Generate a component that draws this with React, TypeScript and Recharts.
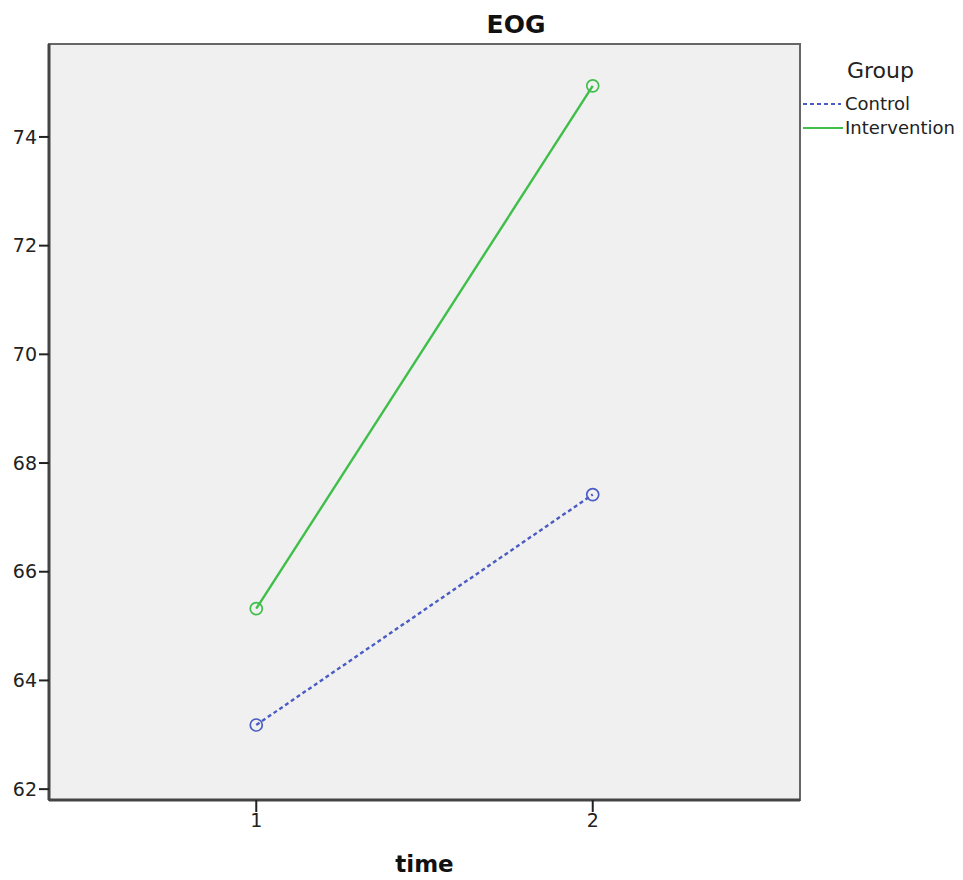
import React from 'react';
import { LineChart, Line, XAxis, YAxis, CartesianGrid, ReferenceArea } from 'recharts';

const times = [1, 2];
const controlValues = [63.18, 67.42];
const interventionValues = [65.32, 74.94];
const yTicks = [62, 64, 66, 68, 70, 72, 74];
const xTicks = [1, 2];

const data = times.map((t, i) => ({ time: t, control: controlValues[i], intervention: interventionValues[i] }));

const BLUE = '#4a5cc4';
const GREEN = '#3fbf4a';
const FONT = '"DejaVu Sans", sans-serif';
const X_DOMAIN: [number, number] = [0.384, 2.616];
const Y_DOMAIN: [number, number] = [61.8, 75.71];

export default function App() {
  return (
    <div style={{ position: 'relative', width: 955, height: 872, fontFamily: FONT }}>
      <div style={{ position: 'absolute', left: 0, width: 1016, top: 2, textAlign: 'center', fontSize: 25, fontWeight: 'bold', color: '#111' }}>
        EOG
      </div>
      <LineChart width={955} height={872} data={data} margin={{ top: 36, right: 163, bottom: 0, left: 0 }}>
        <CartesianGrid fill="#f0f0f0" horizontal={false} vertical={false} />
        <ReferenceArea
          x1={X_DOMAIN[0]}
          x2={X_DOMAIN[1]}
          y1={Y_DOMAIN[0]}
          y2={Y_DOMAIN[1]}
          fill="none"
          fillOpacity={0}
          stroke="#666"
          strokeWidth={2}
          ifOverflow="visible"
        />
        <XAxis
          dataKey="time"
          type="number"
          domain={X_DOMAIN}
          ticks={xTicks}
          allowDataOverflow
          height={80}
          tickSize={12}
          tickLine={{ stroke: '#222', strokeWidth: 2 }}
          axisLine={{ stroke: '#444', strokeWidth: 3 }}
          tick={{ fill: '#222', fontSize: 19, fontFamily: FONT }}
          label={{ value: 'time', position: 'insideBottom', offset: 8, style: { fontSize: 23, fontWeight: 'bold', fill: '#111', fontFamily: FONT } }}
        />
        <YAxis
          type="number"
          domain={Y_DOMAIN}
          ticks={yTicks}
          allowDataOverflow
          width={41}
          tickSize={10}
          tickLine={{ stroke: '#222', strokeWidth: 2 }}
          axisLine={{ stroke: '#444', strokeWidth: 3 }}
          tick={{ fill: '#222', fontSize: 19, fontFamily: FONT }}
        />
        <Line
          dataKey="control"
          stroke={BLUE}
          strokeWidth={2.4}
          strokeDasharray="4 3"
          isAnimationActive={false}
          dot={{ r: 6, fill: 'none', stroke: BLUE, strokeWidth: 1.7, strokeDasharray: '' }}
          activeDot={false}
        />
        <Line
          dataKey="intervention"
          stroke={GREEN}
          strokeWidth={2.4}
          isAnimationActive={false}
          dot={{ r: 6, fill: 'none', stroke: GREEN, strokeWidth: 1.7 }}
          activeDot={false}
        />
      </LineChart>
      <div style={{ position: 'absolute', left: 795, top: 48, color: '#222' }}>
        <div style={{ fontSize: 22, marginLeft: 44, lineHeight: '30px', marginBottom: 6 }}>Group</div>
        <div style={{ display: 'flex', alignItems: 'center', fontSize: 18, lineHeight: '24px' }}>
          <svg width={42} height={10}>
            <line x1={0} y1={5} x2={38} y2={5} stroke={BLUE} strokeWidth={2} strokeDasharray="4 3" />
          </svg>
          <span>Control</span>
        </div>
        <div style={{ display: 'flex', alignItems: 'center', fontSize: 18, lineHeight: '24px' }}>
          <svg width={42} height={10}>
            <line x1={0} y1={5} x2={40} y2={5} stroke={GREEN} strokeWidth={2} />
          </svg>
          <span>Intervention</span>
        </div>
      </div>
    </div>
  );
}
